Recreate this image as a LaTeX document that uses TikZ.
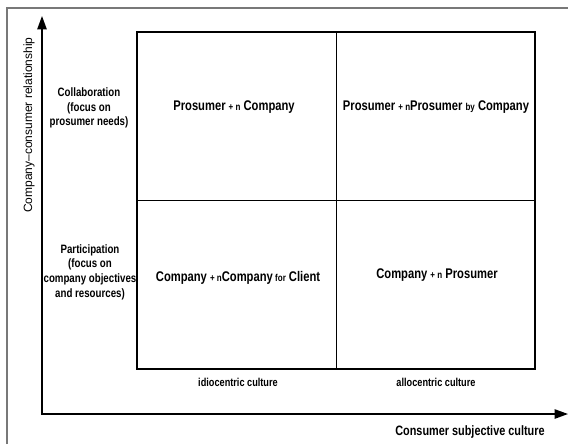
\documentclass[tikz,border=0pt]{standalone}
\usepackage{fontspec}
\setmainfont{Liberation Sans}
\newfontfamily\narrowsf[FakeStretch=0.8]{Liberation Sans}
\usetikzlibrary{arrows.meta}
\definecolor{framegray}{RGB}{120,120,120}
\newcommand{\smtxt}[1]{{\fontsize{7.5}{8}\selectfont #1}}

\begin{document}
\begin{tikzpicture}[x=0.75pt,y=0.75pt,yscale=-1,xscale=1,
  celltext/.style={font=\narrowsf\bfseries\fontsize{10.5}{12}\selectfont, inner sep=0.75pt},
  sidetext/.style={font=\narrowsf\bfseries\fontsize{9.1}{11}\selectfont, align=center, inner sep=0.75pt},
  bottomtext/.style={font=\narrowsf\bfseries\fontsize{8.6}{10}\selectfont, inner sep=0.75pt},
  axis/.style={line width=1.1pt, {Triangle[width=7pt,length=10pt]}-{Triangle[width=7pt,length=10pt]}}]
\useasboundingbox (0,0) rectangle (568,444);

% outer frame
\draw [framegray][line width=0.8pt] (7,444) |- (568,8) ;

% axes
\coordinate (ytip) at (42,16) ;
\coordinate (xtip) at (568,414) ;
\draw [axis] (ytip) |- (xtip) ;

% grid
\coordinate (nw) at (137,32) ;
\coordinate (se) at (535,369) ;
\draw [line width=1.1pt] (nw) rectangle (se) ;
\draw [line width=0.6pt] (336,32) -- (336,369) ;
\draw [line width=0.6pt] (137,200) -- (535,200) ;

% Text Node
\node [celltext] (pc) at (234,107) {Prosumer \smtxt{+ n} Company};
% Text Node
\node [celltext] (pp) at (436,107) {Prosumer \smtxt{+ n}Prosumer \smtxt{by} Company};
% Text Node
\node [celltext] (cc) at (238,278) {Company \smtxt{+ n}Company\,\smtxt{for} Client};
% Text Node
\node [celltext] (cp) at (437,275) {Company \smtxt{+ n} Prosumer};

% Text Node
\node [sidetext] (collab) at (89,108) {Collaboration\\(focus on\\prosumer needs)};
% Text Node
\node [sidetext] (partic) at (90,272) {Participation\\(focus on\\company objectives\\and resources)};

% Text Node
\node [bottomtext] (idio) at (238,382) {idiocentric culture};
% Text Node
\node [bottomtext] (allo) at (436,382) {allocentric culture};

% Text Node
\node [font=\fontsize{9}{10}\selectfont, rotate=90, inner sep=0.75pt] (ylab) at (29,125) {Company--consumer relationship};
% Text Node
\node [font=\narrowsf\bfseries\fontsize{10.2}{11}\selectfont, inner sep=0.75pt] (xlab) at (470,432) {Consumer subjective culture};

\end{tikzpicture}
\end{document}
